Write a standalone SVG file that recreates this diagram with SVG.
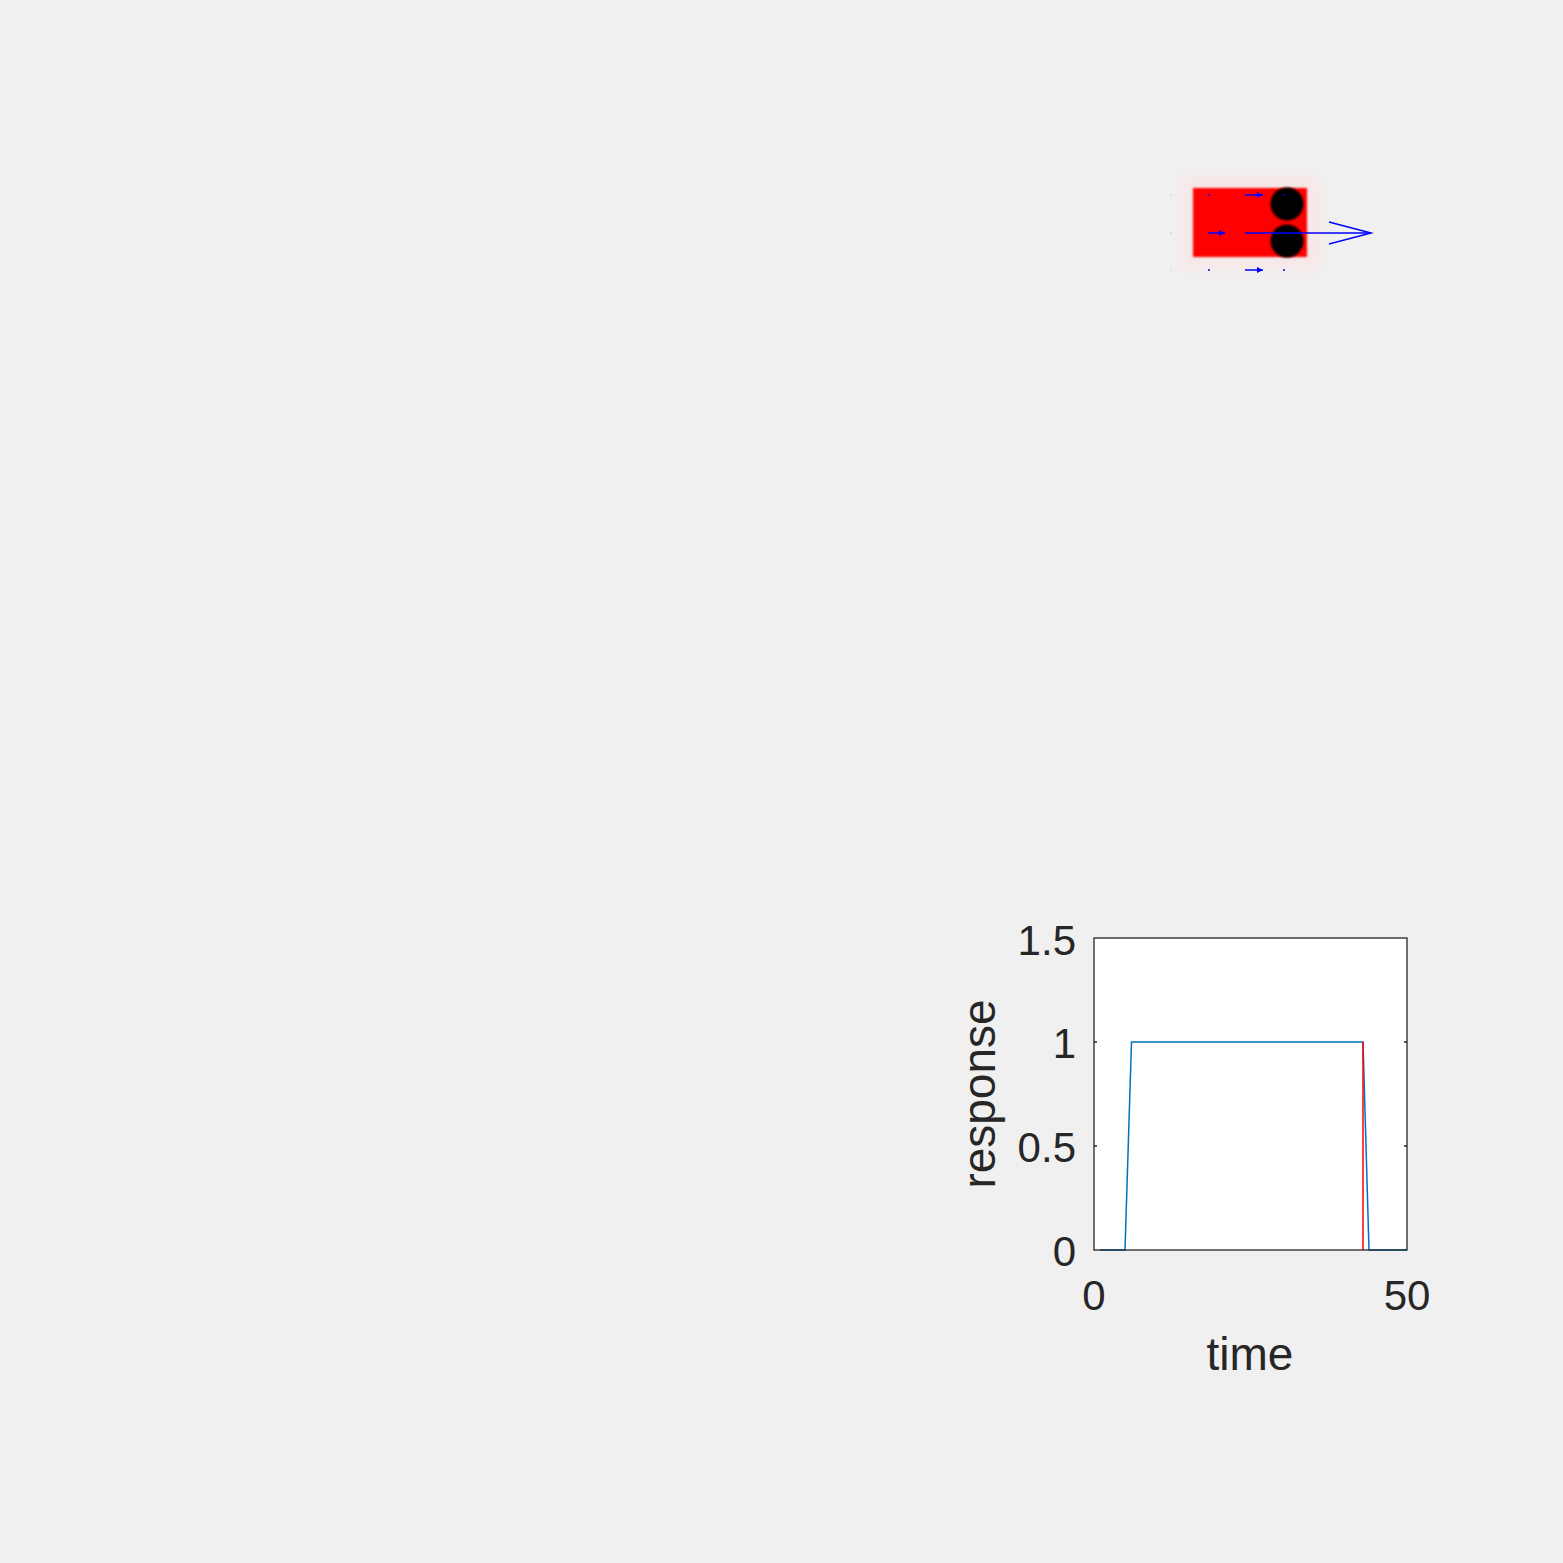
<svg xmlns="http://www.w3.org/2000/svg" width="1563" height="1563" viewBox="0 0 1563 1563">
<defs>
<style>
.t{font-family:"Liberation Sans",Arial,sans-serif;font-size:42px;fill:#262626}
.lb{font-family:"Liberation Sans",Arial,sans-serif;font-size:46px;fill:#262626}
.ax{fill:none;stroke:#262626;stroke-width:1.3}
.bl{fill:none;stroke:#0000ff;stroke-width:1.5}
.bd{fill:#0000ff}
</style>
<filter id="blur" x="-20%" y="-20%" width="140%" height="140%"><feGaussianBlur stdDeviation="1.2"/></filter>
<filter id="halo" x="-30%" y="-30%" width="160%" height="160%"><feGaussianBlur stdDeviation="6"/></filter>
<marker id="ah" viewBox="0 0 6 6" refX="6" refY="3" markerWidth="4" markerHeight="4" orient="auto"><path d="M0,0 L6,3 L0,6 z" fill="#0000ff"/></marker>
</defs>
<rect width="1563" height="1563" fill="#f0f0f0"/>
<g id="robot">
<rect x="1180" y="175" width="140" height="95" fill="#ffe0e0" opacity="0.5" filter="url(#halo)"/>
<rect x="1193" y="188" width="114" height="69" fill="#ff0000" filter="url(#blur)"/>
<circle cx="1287" cy="204" r="16.5" fill="#000" filter="url(#blur)"/>
<circle cx="1287" cy="241" r="16.5" fill="#000" filter="url(#blur)"/>
</g>
<g id="connectors">
<line x1="1245" y1="233" x2="1371" y2="233" class="bl"/>
<polyline points="1329,222 1371,233 1329,244" class="bl"/>
<line x1="1245" y1="195" x2="1263" y2="195" class="bl" marker-end="url(#ah)"/>
<line x1="1208" y1="233" x2="1225" y2="233" class="bl" marker-end="url(#ah)"/>
<line x1="1245" y1="270" x2="1263" y2="270" class="bl" marker-end="url(#ah)"/>
<circle cx="1209" cy="195" r="1" class="bd"/>
<circle cx="1284" cy="195" r="1" class="bd"/>
<circle cx="1209" cy="270" r="1" class="bd"/>
<circle cx="1284" cy="270" r="1" class="bd"/>
<circle cx="1171" cy="195" r="0.7" fill="#8080ff" opacity="0.5"/>
<circle cx="1171" cy="233" r="0.7" fill="#8080ff" opacity="0.5"/>
<circle cx="1171" cy="270" r="0.7" fill="#8080ff" opacity="0.5"/>
</g>
<g id="plot">
<rect x="1094" y="938" width="313" height="312" fill="#ffffff"/>
<polyline points="1100,1250 1125,1250 1131.5,1042 1363,1042 1369,1250 1407,1250" fill="none" stroke="#0072bd" stroke-width="1.5"/>
<line x1="1363" y1="1042" x2="1363" y2="1250" stroke="#ff0000" stroke-width="1.5"/>
<rect x="1094" y="938" width="313" height="312" class="ax"/>
<path d="M1094,1042h3M1094,1146h3M1407,1042h-3M1407,1146h-3" class="ax"/>
<text class="t" x="1076" y="955" text-anchor="end">1.5</text>
<text class="t" x="1076" y="1058" text-anchor="end">1</text>
<text class="t" x="1076" y="1162" text-anchor="end">0.5</text>
<text class="t" x="1076" y="1266" text-anchor="end">0</text>
<text class="t" x="1094" y="1310" text-anchor="middle">0</text>
<text class="t" x="1407" y="1310" text-anchor="middle">50</text>
<text class="lb" x="1250" y="1370" text-anchor="middle">time</text>
<text class="lb" transform="translate(995,1094) rotate(-90)" text-anchor="middle">response</text>
</g>
</svg>
